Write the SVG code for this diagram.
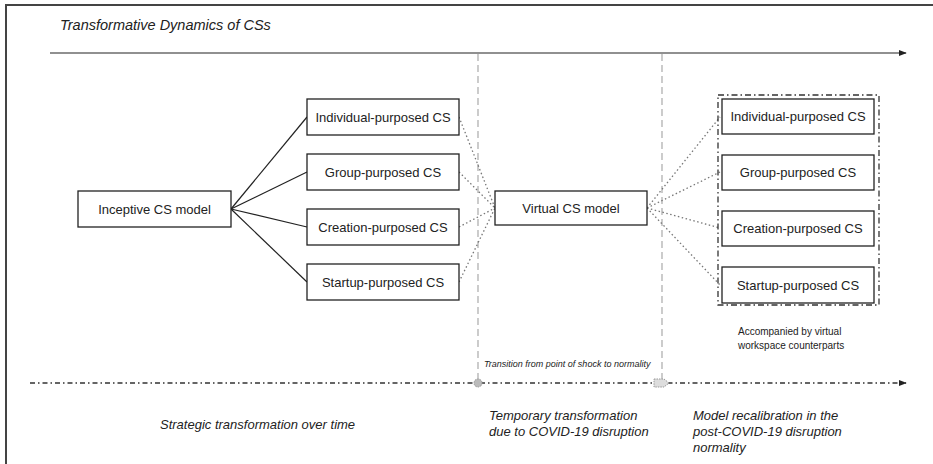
<svg xmlns="http://www.w3.org/2000/svg" width="933" height="464" viewBox="0 0 933 464">
  <style>
    .box { fill: #fff; stroke: #222; stroke-width: 1.3; }
    .lbl { font-family: "Liberation Sans", Arial, sans-serif; font-size: 13px; fill: #222; text-anchor: middle; dominant-baseline: central; }
    .it { font-family: "Liberation Sans", Arial, sans-serif; font-style: italic; fill: #222; }
    .solid { stroke: #222; stroke-width: 1.2; fill: none; }
    .dotted { stroke: #777; stroke-width: 1.3; stroke-dasharray: 1.5 2.5; fill: none; }
    .vdash { stroke: #aaa; stroke-width: 1.2; stroke-dasharray: 7 4; fill: none; }
  </style>
  <defs>
    <marker id="arrow" viewBox="0 0 10 10" refX="9" refY="5" markerWidth="8" markerHeight="8" markerUnits="userSpaceOnUse" orient="auto">
      <path d="M0,1 L10,5 L0,9 z" fill="#222"/>
    </marker>
  </defs>

  <!-- frame -->
  <path d="M6,464 V5 H933" fill="none" stroke="#444" stroke-width="2"/>

  <!-- title and time axis -->
  <text class="it" x="60" y="30" font-size="14.5">Transformative Dynamics of CSs</text>
  <line class="solid" x1="50" y1="53" x2="906" y2="53" marker-end="url(#arrow)"/>

  <!-- phase boundaries -->
  <line class="vdash" x1="478" y1="54" x2="478" y2="381"/>
  <line class="vdash" x1="662" y1="54" x2="662" y2="381"/>

  <!-- bottom phase axis -->
  <line x1="30" y1="383" x2="906" y2="383" stroke="#333" stroke-width="1.3" stroke-dasharray="5 3 1.5 3" marker-end="url(#arrow)"/>
  <circle cx="478" cy="383" r="4" fill="#bbb" stroke="#999" stroke-width="1" stroke-dasharray="1.5 1"/>
  <path d="M654,379 H664 L669,383 L664,387 H654 z" fill="#ddd" stroke="#999" stroke-width="1" stroke-dasharray="1.5 1"/>
  <text class="it" x="484" y="367" font-size="9">Transition from point of shock to normality</text>

  <!-- connectors -->
  <g id="connectors">
    <line class="solid" x1="231" y1="209" x2="307" y2="117"/>
    <line class="solid" x1="231" y1="209" x2="307" y2="172"/>
    <line class="solid" x1="231" y1="209" x2="307" y2="227"/>
    <line class="solid" x1="231" y1="209" x2="307" y2="282"/>
    <line class="dotted" x1="459" y1="117" x2="495" y2="208"/>
    <line class="dotted" x1="459" y1="172" x2="495" y2="208"/>
    <line class="dotted" x1="459" y1="227" x2="495" y2="208"/>
    <line class="dotted" x1="459" y1="282" x2="495" y2="208"/>
    <line class="dotted" x1="647" y1="208" x2="720" y2="117"/>
    <line class="dotted" x1="647" y1="208" x2="720" y2="172"/>
    <line class="dotted" x1="647" y1="208" x2="720" y2="228"/>
    <line class="dotted" x1="647" y1="208" x2="720" y2="285"/>
  </g>

  <!-- inceptive model -->
  <g id="inceptive">
    <rect class="box" x="78" y="191" width="153" height="36"/>
    <text class="lbl" x="154.5" y="209">Inceptive CS model</text>
  </g>

  <!-- first-phase variants -->
  <g id="individual-1">
    <rect class="box" x="307" y="99" width="152" height="36"/>
    <text class="lbl" x="383" y="117">Individual-purposed CS</text>
  </g>
  <g id="group-1">
    <rect class="box" x="307" y="154" width="152" height="36"/>
    <text class="lbl" x="383" y="172">Group-purposed CS</text>
  </g>
  <g id="creation-1">
    <rect class="box" x="307" y="209" width="152" height="36"/>
    <text class="lbl" x="383" y="227">Creation-purposed CS</text>
  </g>
  <g id="startup-1">
    <rect class="box" x="307" y="264" width="152" height="36"/>
    <text class="lbl" x="383" y="282">Startup-purposed CS</text>
  </g>

  <!-- virtual model -->
  <g id="virtual">
    <rect class="box" x="495" y="191" width="152" height="34"/>
    <text class="lbl" x="571" y="208">Virtual CS model</text>
  </g>

  <!-- recalibrated variants -->
  <g id="recalibrated">
    <rect x="718" y="95" width="161" height="210" fill="none" stroke="#333" stroke-width="1.3" stroke-dasharray="6 3 1.5 3"/>
    <g id="individual-2">
      <rect class="box" x="722" y="99" width="152" height="35"/>
      <text class="lbl" x="798" y="116.5">Individual-purposed CS</text>
    </g>
    <g id="group-2">
      <rect class="box" x="722" y="155" width="152" height="35"/>
      <text class="lbl" x="798" y="172.5">Group-purposed CS</text>
    </g>
    <g id="creation-2">
      <rect class="box" x="722" y="211" width="152" height="35"/>
      <text class="lbl" x="798" y="228.5">Creation-purposed CS</text>
    </g>
    <g id="startup-2">
      <rect class="box" x="722" y="267" width="152" height="36"/>
      <text class="lbl" x="798" y="285">Startup-purposed CS</text>
    </g>
  </g>
  <text font-family="Liberation Sans, Arial, sans-serif" font-size="10" fill="#222">
    <tspan x="738" y="335">Accompanied by virtual</tspan>
    <tspan x="738" y="349">workspace counterparts</tspan>
  </text>

  <!-- phase captions -->
  <text class="it" x="160" y="429" font-size="13">Strategic transformation over time</text>
  <text class="it" font-size="13">
    <tspan x="489" y="420">Temporary transformation</tspan>
    <tspan x="489" y="436">due to COVID-19 disruption</tspan>
  </text>
  <text class="it" font-size="13">
    <tspan x="693" y="420">Model recalibration in the</tspan>
    <tspan x="693" y="436">post-COVID-19 disruption</tspan>
    <tspan x="693" y="452">normality</tspan>
  </text>
</svg>
